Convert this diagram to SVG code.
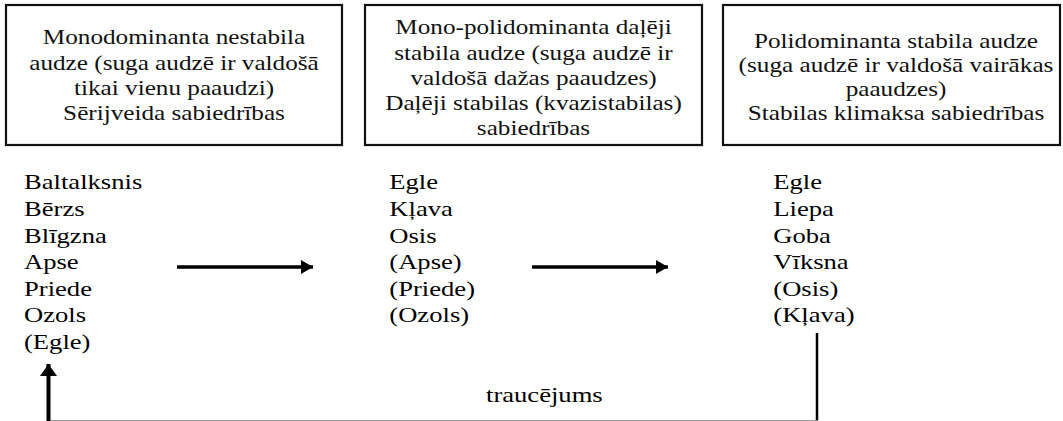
<svg xmlns="http://www.w3.org/2000/svg" width="1063" height="421" viewBox="0 0 1063 421">
<style>
.box{fill:#fff;stroke:#111;stroke-width:2.2}
.bt{font-size:21px;fill:#111;text-anchor:middle}
.lt{font-size:22px;fill:#000}
.ln{stroke:#000;fill:none}
</style>
<defs>
<marker id="ah" viewBox="0 0 12 14" refX="12" refY="7" markerWidth="12" markerHeight="14" markerUnits="userSpaceOnUse" orient="auto">
<path d="M0,0 L12,7 L0,14 Z" fill="#000"/>
</marker>
<marker id="ah2" viewBox="0 0 12 17" refX="12" refY="8.5" markerWidth="12" markerHeight="17" markerUnits="userSpaceOnUse" orient="auto">
<path d="M0,0 L12,8.5 L0,17 Z" fill="#000"/>
</marker>
</defs>
<rect width="1063" height="421" fill="#fff"/>
<g id="box1" font-family="Liberation Serif, serif">
<rect class="box" x="6" y="5" width="336" height="140"/>
<g transform="translate(174,0) scale(1.2,1)">
<text class="bt" x="0" y="44.5">Monodominanta nestabila</text>
<text class="bt" x="0" y="70">audze (suga audzē ir valdošā</text>
<text class="bt" x="0" y="95.5">tikai vienu paaudzi)</text>
<text class="bt" x="0" y="120.5">Sērijveida sabiedrības</text>
</g>
</g>
<g id="box2" font-family="Liberation Serif, serif">
<rect class="box" x="365" y="5" width="337" height="140"/>
<g transform="translate(533.5,0) scale(1.2,1)">
<text class="bt" x="0" y="34.5">Mono-polidominanta daļēji</text>
<text class="bt" x="0" y="60">stabila audze (suga audzē ir</text>
<text class="bt" x="0" y="85.5">valdošā dažas paaudzes)</text>
<text class="bt" x="0" y="110.5">Daļēji stabilas (kvazistabilas)</text>
<text class="bt" x="0" y="135">sabiedrības</text>
</g>
</g>
<g id="box3" font-family="Liberation Serif, serif">
<rect class="box" x="723" y="5" width="337" height="140"/>
<g transform="translate(896,0) scale(1.2,1)">
<text class="bt" x="0" y="48">Polidominanta stabila audze</text>
<text class="bt" x="0" y="72.5">(suga audzē ir valdošā vairākas</text>
<text class="bt" x="0" y="96.5">paaudzes)</text>
<text class="bt" x="0" y="120.5">Stabilas klimaksa sabiedrības</text>
</g>
</g>
<g id="list1" font-family="Liberation Serif, serif" transform="translate(24,0) scale(1.21,1)">
<text class="lt" x="0" y="189.5">Baltalksnis</text>
<text class="lt" x="0" y="216.1">Bērzs</text>
<text class="lt" x="0" y="242.7">Blīgzna</text>
<text class="lt" x="0" y="269.3">Apse</text>
<text class="lt" x="0" y="295.9">Priede</text>
<text class="lt" x="0" y="322.5">Ozols</text>
<text class="lt" x="0" y="349.1">(Egle)</text>
</g>
<g id="list2" font-family="Liberation Serif, serif" transform="translate(389.3,0) scale(1.21,1)">
<text class="lt" x="0" y="189.5">Egle</text>
<text class="lt" x="0" y="216.1">Kļava</text>
<text class="lt" x="0" y="242.7">Osis</text>
<text class="lt" x="0" y="269.3">(Apse)</text>
<text class="lt" x="0" y="295.9">(Priede)</text>
<text class="lt" x="0" y="322.5">(Ozols)</text>
</g>
<g id="list3" font-family="Liberation Serif, serif" transform="translate(773.3,0) scale(1.21,1)">
<text class="lt" x="0" y="189.5">Egle</text>
<text class="lt" x="0" y="216.1">Liepa</text>
<text class="lt" x="0" y="242.7">Goba</text>
<text class="lt" x="0" y="269.3">Vīksna</text>
<text class="lt" x="0" y="295.9">(Osis)</text>
<text class="lt" x="0" y="322.5">(Kļava)</text>
</g>
<g id="connectors">
<line class="ln" x1="177" y1="267" x2="313" y2="267" stroke-width="3.5" marker-end="url(#ah)"/>
<line class="ln" x1="532" y1="267" x2="668" y2="267" stroke-width="3.5" marker-end="url(#ah)"/>
<polyline class="ln" points="817,333 817,420.5" stroke-width="2.5"/>
<line x1="48" y1="420.5" x2="817" y2="420.5" stroke="#999" stroke-width="1"/>
<line class="ln" x1="48.5" y1="421" x2="48.5" y2="364" stroke-width="4" marker-end="url(#ah2)"/>
<g font-family="Liberation Serif, serif" transform="translate(486,0) scale(1.21,1)">
<text class="lt" x="0" y="402">traucējums</text>
</g>
</g>
</svg>
